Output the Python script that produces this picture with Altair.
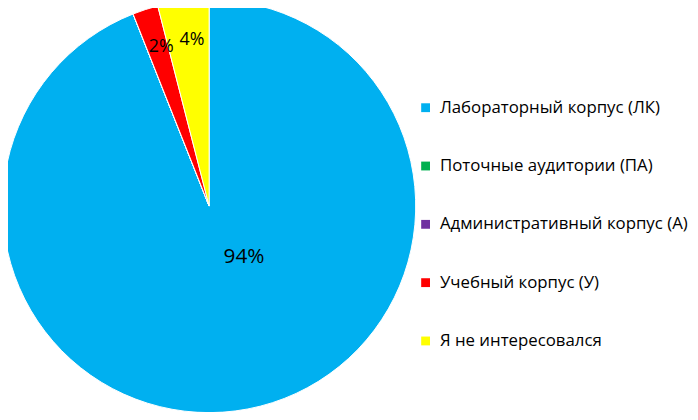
import altair as alt
import pandas as pd

categories = [
    "Лабораторный корпус (ЛК)",
    "Поточные аудитории (ПА)",
    "Административный корпус (А)",
    "Учебный корпус (У)",
    "Я не интересовался",
]
values = [94, 0, 0, 2, 4]
colors = ["#00B0F0", "#00B050", "#7030A0", "#FF0000", "#FFFF00"]

df = pd.DataFrame({
    "category": categories,
    "value": values,
    "idx": list(range(len(categories))),
    "label": [f"{v}%" for v in values],
})

FONT = "Open Sans"

base = alt.Chart(df).encode(
    theta=alt.Theta("value:Q", stack=True),
    order=alt.Order("idx:O"),
    x=alt.value(203.5),
    y=alt.value(198),
)

arcs = base.mark_arc(outerRadius=209, stroke="white", strokeWidth=1).encode(
    color=alt.Color(
        "category:N",
        sort=categories,
        scale=alt.Scale(domain=categories, range=colors),
        title=None,
        legend=alt.Legend(
            orient="none",
            legendX=414,
            legendY=90,
            symbolType="square",
            symbolSize=80,
            symbolStrokeWidth=0,
            labelFont=FONT,
            labelFontSize=17,
            labelColor="#000000",
            rowPadding=41,
            labelOffset=6,
            labelLimit=400,
        ),
    )
)

big = base.mark_text(
    radius=55, dx=25, dy=-2, font=FONT, fontSize=21, color="black"
).encode(text=alt.condition("datum.value >= 50", alt.Text("label:N"), alt.value("")))

small = base.mark_text(
    radius=170, dx=4, dy=1, font=FONT, fontSize=18, color="black"
).encode(text=alt.condition("datum.value > 0 && datum.value < 50", alt.Text("label:N"), alt.value("")))

chart = alt.layer(arcs, big, small).properties(
    width=690, height=404, padding=0, autosize=alt.AutoSizeParams(type="none")
).configure_view(stroke=None)

chart.save("out.html", embed_options={"renderer": "svg", "actions": False})
